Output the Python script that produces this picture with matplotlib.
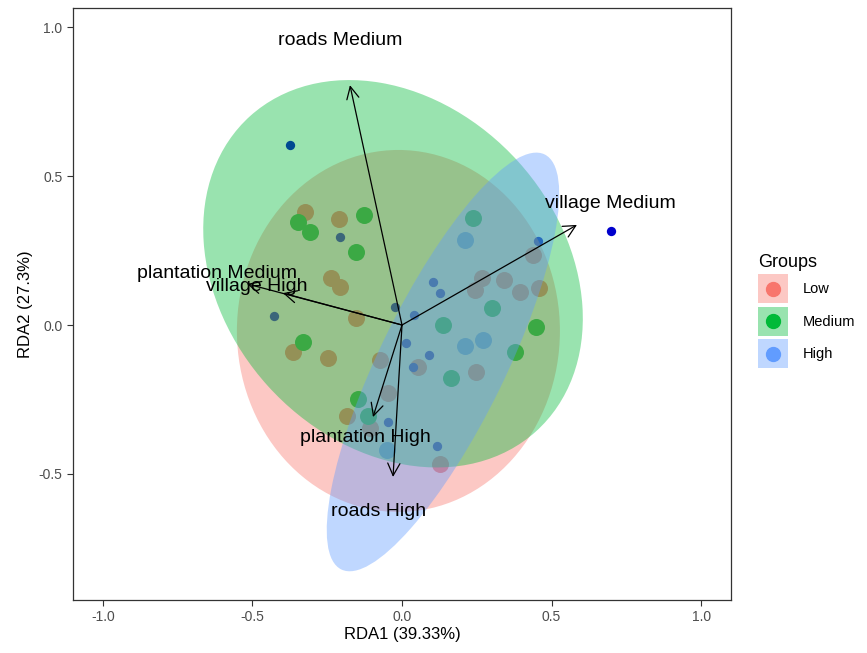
import matplotlib

matplotlib.use("Agg")
import matplotlib.pyplot as plt
from matplotlib.lines import Line2D
from matplotlib.patches import Ellipse, Patch
from matplotlib.legend_handler import HandlerTuple, HandlerLine2D

plt.rcParams["font.family"] = ["Liberation Sans", "DejaVu Sans"]

# site scores (RDA1, RDA2) per group
low_x = [-0.324, -0.211, -0.237, -0.207, -0.154, -0.365, -0.247, -0.074, -0.047, -0.184,
         -0.107, 0.127, 0.054, 0.247, 0.268, 0.244, 0.341, 0.395, 0.438, 0.458]
low_y = [0.379, 0.356, 0.158, 0.128, 0.023, -0.091, -0.111, -0.117, -0.228, -0.305,
         -0.346, -0.466, -0.141, -0.158, 0.158, 0.117, 0.151, 0.111, 0.235, 0.124]
med_x = [-0.348, -0.308, -0.127, -0.154, -0.331, 0.448, 0.378, 0.237, 0.301, 0.137,
         0.164, -0.147, -0.114]
med_y = [0.346, 0.312, 0.369, 0.245, -0.057, -0.007, -0.091, 0.359, 0.057, 0.0,
         -0.178, -0.248, -0.305]
high_x = [0.211, 0.211, 0.271, -0.050]
high_y = [0.285, -0.070, -0.050, -0.419]

# second set of scores, drawn as small dots
dot_x = [-0.375, -0.207, -0.428, -0.023, 0.040, 0.104, 0.127, 0.455, 0.013, 0.090,
         0.037, -0.047, 0.117, 0.699]
dot_y = [0.604, 0.295, 0.030, 0.060, 0.034, 0.144, 0.107, 0.282, -0.060, -0.101,
         -0.141, -0.326, -0.406, 0.315]

# group ellipses: centre x, centre y, width, height, angle
ell_cx = [-0.012, -0.030, 0.137]
ell_cy = [-0.020, 0.172, -0.124]
ell_w = [1.08, 1.426, 1.55]
ell_h = [1.215, 1.126, 0.42]
ell_ang = [0, -48, 64]

# environmental vectors
env_labels = ["roads Medium", "village Medium", "plantation Medium", "village High",
              "plantation High", "roads High"]
env_x = [-0.174, 0.585, -0.518, -0.398, -0.097, -0.030]
env_y = [0.805, 0.336, 0.138, 0.107, -0.309, -0.510]
lab_x = [-0.207, 0.696, -0.619, -0.485, -0.124, -0.080]
lab_y = [0.956, 0.409, 0.174, 0.128, -0.379, -0.627]

groups = ["Low", "Medium", "High"]
colors = ["#F8766D", "#00BA38", "#619CFF"]


class CenteredMarker(HandlerLine2D):
    """Put the legend marker in the middle of the key box."""

    def create_artists(self, legend, orig_handle, xdescent, ydescent, width, height,
                       fontsize, trans):
        artists = super().create_artists(legend, orig_handle, xdescent, ydescent,
                                         width, height, fontsize, trans)
        for a in artists:
            a.set_ydata([height / 2 - ydescent] * len(a.get_xdata()))
        return artists


fig = plt.figure(figsize=(8.67, 6.53), dpi=100)
ax = fig.add_axes([73 / 867, 53 / 653, 658 / 867, 592 / 653])

for xs, ys, c in zip([low_x, med_x, high_x], [low_y, med_y, high_y], colors):
    ax.scatter(xs, ys, s=150, color=c, marker="o", linewidths=0, zorder=2)
ax.scatter(dot_x, dot_y, s=45, color="#0000CD", linewidths=0, zorder=2)

for i, c in enumerate(colors):
    ax.add_patch(Ellipse((ell_cx[i], ell_cy[i]), ell_w[i], ell_h[i], angle=ell_ang[i],
                         facecolor=c, edgecolor="none", alpha=0.4, zorder=3))

for lab, x, y, tx, ty in zip(env_labels, env_x, env_y, lab_x, lab_y):
    ax.annotate("", xy=(x, y), xytext=(0, 0),
                arrowprops=dict(arrowstyle="->", color="black", lw=0.9,
                                mutation_scale=22, shrinkA=0, shrinkB=0),
                zorder=4)
    ax.text(tx, ty, lab, fontsize=14, ha="center", va="center", color="black", zorder=5)

ax.set_xlim(-1.1, 1.1)
ax.set_ylim(-0.923, 1.064)
ax.set_xticks([-1.0, -0.5, 0.0, 0.5, 1.0])
ax.set_yticks([-0.5, 0.0, 0.5, 1.0])
ax.set_xticklabels(["-1.0", "-0.5", "0.0", "0.5", "1.0"])
ax.set_yticklabels(["-0.5", "0.0", "0.5", "1.0"])
ax.tick_params(direction="out", length=4, width=0.8, colors="#333333",
               labelcolor="#4D4D4D", labelsize=10)
for sp in ax.spines.values():
    sp.set_linewidth(0.9)
    sp.set_color("#333333")
ax.set_xlabel("RDA1 (39.33%)", fontsize=12, labelpad=2)
ax.set_ylabel("RDA2 (27.3%)", fontsize=12, labelpad=4)

# legend keys: ellipse fill with the point marker on top
handles = [(Patch(facecolor=c, alpha=0.4, edgecolor="none"),
            Line2D([], [], marker="o", color=c, ms=10, ls="")) for c in colors]
fig.legend(handles, groups,
           handler_map={tuple: HandlerTuple(ndivide=1, pad=0), Line2D: CenteredMarker()},
           title="Groups", loc="center left", bbox_to_anchor=(758 / 867, 1 - 311 / 653),
           frameon=False, fontsize=10.5, title_fontsize=13, handlelength=2.05,
           handleheight=2.68, labelspacing=0.25, handletextpad=1.0, borderpad=0,
           borderaxespad=0, alignment="left")

fig.savefig("out.png", dpi=100)
